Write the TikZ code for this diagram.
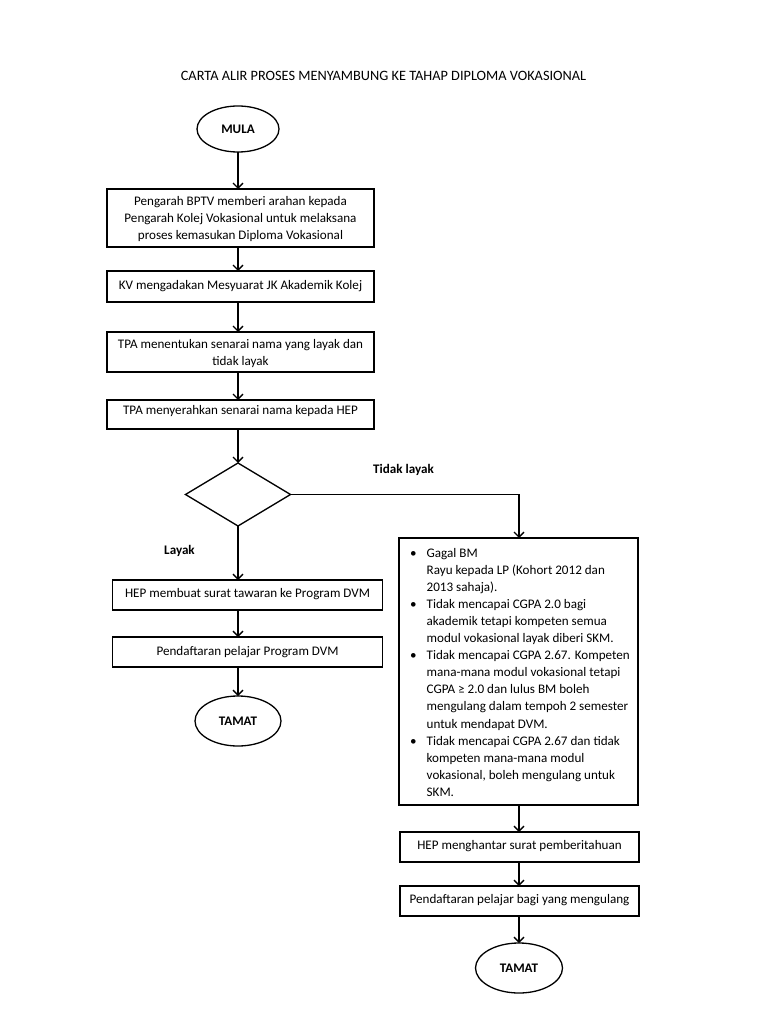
\documentclass[tikz,border=0pt]{standalone}
\usepackage{fontspec}
\setmainfont{Carlito}
\usetikzlibrary{shapes.geometric,arrows.meta}
\begin{document}
\begin{tikzpicture}[x=1pt,y=-1pt,
  every node/.style={font=\fontsize{13.1}{17.1}\selectfont, inner sep=0pt, outer sep=0pt},
  box/.style={draw, line width=1.4pt, rectangle, anchor=north west},
  txt/.style={anchor=base},
  term/.style={draw, ellipse, line width=1.3pt, font=\fontsize{13.1}{17.1}\selectfont\bfseries},
  lbl/.style={anchor=base, font=\fontsize{13.1}{17.1}\selectfont\bfseries},
  arr/.style={line width=1.3pt, -{Straight Barb[length=5pt,width=10pt,line width=1.3pt]}},
]
\useasboundingbox (0,0) rectangle (768,1024);
\fill[white] (0,0) rectangle (768,1024);
\coordinate (ax) at (238,0);

\node[txt, font=\fontsize{14.3}{17.1}\selectfont] (title) at (383.5,81) {CARTA ALIR PROSES MENYAMBUNG KE TAHAP DIPLOMA VOKASIONAL};

\node[term, minimum width=82pt, minimum height=46pt] (mula) at (238,129) {MULA};

\node[box, minimum width=267pt, minimum height=58pt] (b1) at (107,189) {};
\node[txt] (t1) at (240.5,205.5) {\begin{tabular}[t]{@{}c@{}}Pengarah BPTV memberi arahan kepada\\Pengarah Kolej Vokasional untuk melaksana\\proses kemasukan Diploma Vokasional\end{tabular}};

\node[box, minimum width=267pt, minimum height=31pt] (b2) at (107,271) {};
\node[txt] (t2) at (240.5,289) {KV mengadakan Mesyuarat JK Akademik Kolej};

\node[box, minimum width=267pt, minimum height=40pt] (b3) at (107,332) {};
\node[txt] (t3) at (240.5,348) {\begin{tabular}[t]{@{}c@{}}TPA menentukan senarai nama yang layak dan\\tidak layak\end{tabular}};

\node[box, minimum width=267pt, minimum height=29pt] (b4) at (107,400) {};
\node[txt] (t4) at (240.5,414.5) {TPA menyerahkan senarai nama kepada HEP};

\node[draw, diamond, line width=1.3pt, minimum width=105pt, minimum height=63pt] (dia) at (238,494.5) {};

\node[lbl] (tl) at (403.5,473.5) {Tidak layak};
\node[lbl] (ly) at (179.5,554.5) {Layak};

\node[box, minimum width=270pt, minimum height=30pt] (h1) at (112.5,580) {};
\node[txt] (th1) at (247.5,597.5) {HEP membuat surat tawaran ke Program DVM};

\node[box, minimum width=270pt, minimum height=30pt] (p1) at (112.5,637) {};
\node[txt] (tp1) at (247.5,655) {Pendaftaran pelajar Program DVM};

\node[term, minimum width=86pt, minimum height=50pt] (tamat1) at (238,721) {TAMAT};

\node[box, minimum width=239pt, minimum height=267pt] (rb) at (399,538) {};
\node[anchor=base west] (trb) at (408,557) {\begin{tabular}[t]{@{}l@{}l@{}}
\makebox[18.7pt][l]{\hspace{2pt}\textbullet} & Gagal BM\\
 & Rayu kepada LP (Kohort 2012 dan\\
 & 2013 sahaja).\\
\makebox[18.7pt][l]{\hspace{2pt}\textbullet} & Tidak mencapai CGPA 2.0 bagi\\
 & akademik tetapi kompeten semua\\
 & modul vokasional layak diberi SKM.\\
\makebox[18.7pt][l]{\hspace{2pt}\textbullet} & Tidak mencapai CGPA 2.67. Kompeten\\
 & mana-mana modul vokasional tetapi\\
 & CGPA ≥ 2.0 dan lulus BM boleh\\
 & mengulang dalam tempoh 2 semester\\
 & untuk mendapat DVM.\\
\makebox[18.7pt][l]{\hspace{2pt}\textbullet} & Tidak mencapai CGPA 2.67 dan tidak\\
 & kompeten mana-mana modul\\
 & vokasional, boleh mengulang untuk\\
 & SKM.
\end{tabular}};

\node[box, minimum width=239pt, minimum height=30pt] (h2) at (400,832) {};
\node[txt] (th2) at (519.5,849) {HEP menghantar surat pemberitahuan};

\node[box, minimum width=239pt, minimum height=30pt] (p2) at (400,886) {};
\node[txt] (tp2) at (519.5,903) {Pendaftaran pelajar bagi yang mengulang};

\node[term, minimum width=87pt, minimum height=50pt] (tamat2) at (519,968) {TAMAT};

\draw[arr] (mula.south) -- (mula.south |- b1.north);
\draw[arr] (b1.south -| ax) -- (b2.north -| ax);
\draw[arr] (b2.south -| ax) -- (b3.north -| ax);
\draw[arr] (b3.south -| ax) -- (b4.north -| ax);
\draw[arr] (b4.south -| ax) -- (dia.north);
\draw[arr] (dia.south) -- (h1.north -| ax);
\draw[arr] (h1.south -| ax) -- (p1.north -| ax);
\draw[arr] (p1.south -| ax) -- (tamat1.north);
\draw[arr] (dia.east) -| (tamat2.north |- rb.north);
\draw[arr] (rb.south -| tamat2) -- (h2.north -| tamat2);
\draw[arr] (h2.south -| tamat2) -- (p2.north -| tamat2);
\draw[arr] (p2.south -| tamat2) -- (tamat2.north);
\end{tikzpicture}
\end{document}
